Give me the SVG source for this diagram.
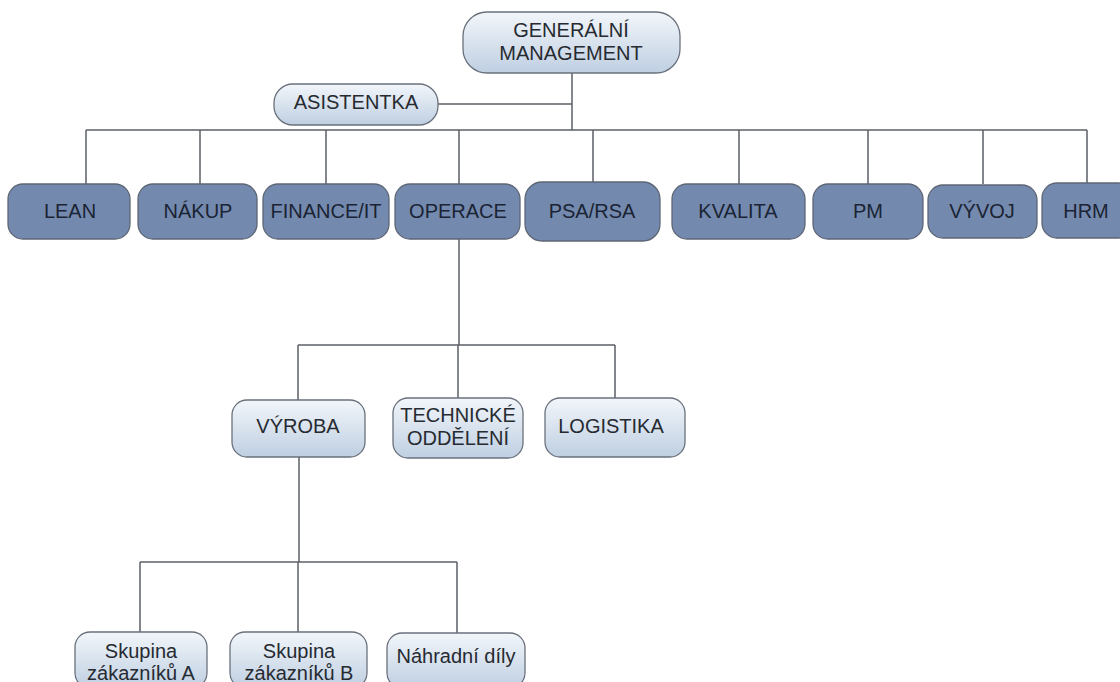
<svg xmlns="http://www.w3.org/2000/svg" width="1120" height="682" viewBox="0 0 1120 682">
  <defs>
    <linearGradient id="lightFill" x1="0" y1="0" x2="0" y2="1">
      <stop offset="0" stop-color="#f2f6fa"/>
      <stop offset="1" stop-color="#bfcfe2"/>
    </linearGradient>
    <style>
      .dark { fill: #7489ae; stroke: #5d6675; stroke-width: 1.3; }
      .light { fill: url(#lightFill); stroke: #6a717c; stroke-width: 1.3; }
      .lbl { font-family: "Liberation Sans", Arial, sans-serif; font-size: 20px; text-anchor: middle; }
      .dlbl { fill: #1a2434; }
      .llbl { fill: #262a31; }
      .wire { fill: none; stroke: #5b5f66; stroke-width: 1.5; }
    </style>
  </defs>
  <rect width="1120" height="682" fill="#ffffff"/>

  <!-- connectors -->
  <g id="connectors" class="wire">
    <!-- general management down to the department bus -->
    <path d="M572 73 V130"/>
    <path d="M572 104 H438"/>
    <path d="M86 130 H1087"/>
    <path d="M86 130 V184 M200 130 V184 M326 130 V184 M459 130 V184 M593 130 V182 M739 130 V184 M868 130 V184 M983 130 V184 M1087 130 V183"/>
    <!-- operations subtree -->
    <path d="M459 239 V345"/>
    <path d="M298 345 H615"/>
    <path d="M298 345 V400 M458 345 V398 M615 345 V398"/>
    <!-- production subtree -->
    <path d="M299 457 V562"/>
    <path d="M140 562 H457"/>
    <path d="M140 562 V632 M298 562 V632 M457 562 V633"/>
  </g>

  <!-- top management -->
  <g id="general-management">
    <rect class="light" x="463" y="12" width="217" height="61" rx="24"/>
    <text class="lbl llbl" x="571" y="37">GENERÁLNÍ</text>
    <text class="lbl llbl" x="571" y="60">MANAGEMENT</text>
  </g>
  <g id="asistentka">
    <rect class="light" x="274" y="84" width="164" height="41" rx="19"/>
    <text class="lbl llbl" x="356" y="109">ASISTENTKA</text>
  </g>

  <!-- departments -->
  <g id="lean">
    <rect class="dark" x="8" y="184" width="122" height="55" rx="15"/>
    <text class="lbl dlbl" x="70" y="218">LEAN</text>
  </g>
  <g id="nakup">
    <rect class="dark" x="138" y="184" width="119" height="55" rx="15"/>
    <text class="lbl dlbl" x="198" y="218">NÁKUP</text>
  </g>
  <g id="finance-it">
    <rect class="dark" x="263" y="184" width="126" height="55" rx="15"/>
    <text class="lbl dlbl" x="326" y="218">FINANCE/IT</text>
  </g>
  <g id="operace">
    <rect class="dark" x="395" y="184" width="125" height="55" rx="15"/>
    <text class="lbl dlbl" x="458" y="218">OPERACE</text>
  </g>
  <g id="psa-rsa">
    <rect class="dark" x="525" y="182" width="135" height="59" rx="17"/>
    <text class="lbl dlbl" x="592" y="218">PSA/RSA</text>
  </g>
  <g id="kvalita">
    <rect class="dark" x="672" y="184" width="133" height="55" rx="15"/>
    <text class="lbl dlbl" x="738" y="218">KVALITA</text>
  </g>
  <g id="pm">
    <rect class="dark" x="813" y="184" width="110" height="55" rx="15"/>
    <text class="lbl dlbl" x="868" y="218">PM</text>
  </g>
  <g id="vyvoj">
    <rect class="dark" x="928" y="185" width="109" height="53" rx="15"/>
    <text class="lbl dlbl" x="982" y="218">VÝVOJ</text>
  </g>
  <g id="hrm">
    <rect class="dark" x="1042" y="183" width="92" height="55" rx="15"/>
    <text class="lbl dlbl" x="1086" y="218">HRM</text>
  </g>

  <!-- operations units -->
  <g id="vyroba">
    <rect class="light" x="232" y="400" width="133" height="57" rx="15"/>
    <text class="lbl llbl" x="298" y="433">VÝROBA</text>
  </g>
  <g id="technicke-oddeleni">
    <rect class="light" x="393" y="398" width="130" height="60" rx="15"/>
    <text class="lbl llbl" x="458" y="422">TECHNICKÉ</text>
    <text class="lbl llbl" x="458" y="445">ODDĚLENÍ</text>
  </g>
  <g id="logistika">
    <rect class="light" x="545" y="398" width="140" height="59" rx="15"/>
    <text class="lbl llbl" x="611" y="433">LOGISTIKA</text>
  </g>

  <!-- production units -->
  <g id="skupina-a">
    <rect class="light" x="75" y="632" width="132" height="56" rx="15"/>
    <text class="lbl llbl" x="141" y="658">Skupina</text>
    <text class="lbl llbl" x="141" y="680">zákazníků A</text>
  </g>
  <g id="skupina-b">
    <rect class="light" x="230" y="632" width="137" height="56" rx="15"/>
    <text class="lbl llbl" x="299" y="658">Skupina</text>
    <text class="lbl llbl" x="299" y="680">zákazníků B</text>
  </g>
  <g id="nahradni-dily">
    <rect class="light" x="387" y="633" width="138" height="55" rx="15"/>
    <text class="lbl llbl" x="456" y="663">Náhradní díly</text>
  </g>
</svg>
